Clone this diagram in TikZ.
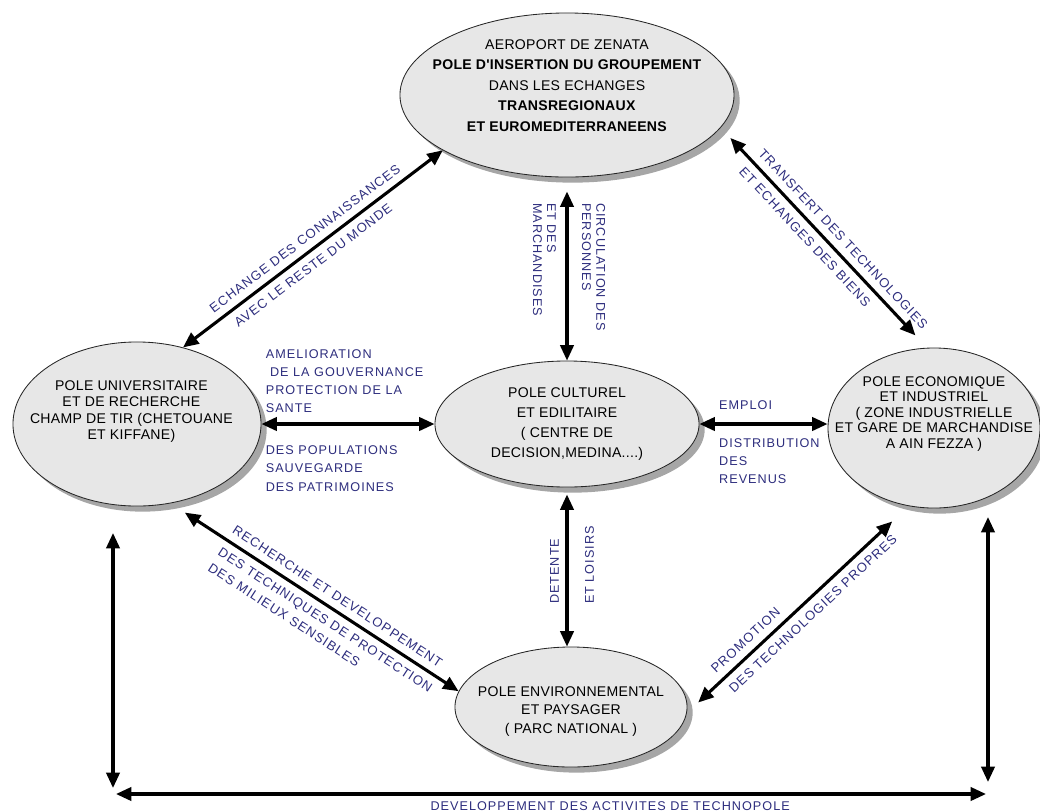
\documentclass[tikz,border=0pt]{standalone}
\usepackage{fontspec}
\setmainfont{Liberation Sans}
\newfontfamily\polefont[LetterSpace=2]{Liberation Sans}
\newfontfamily\linkfont[LetterSpace=8]{Liberation Sans}
\usetikzlibrary{positioning, shapes.geometric, arrows.meta, shadows}
\definecolor{polegray}{RGB}{231,231,231}
\definecolor{linkblue}{RGB}{45,45,125}

\begin{document}
\begin{tikzpicture}[
        x=0.025cm, y=-0.025cm,
        pole/.style={ellipse, draw=black!85, line width=0.6pt, fill=polegray, inner sep=0pt,
            drop shadow={shadow xshift=4pt, shadow yshift=-4pt, fill=black!35, opacity=1}},
        poletext/.style={align=center, font=\polefont\fontsize{10}{#1}\selectfont},
        arrow/.style={<->, >={Triangle[length=11pt, width=9.5pt]}, line width=2.2pt},
        linklabel/.style={text=linkblue, font=\linkfont\fontsize{9}{12.6}\selectfont, align=left, inner sep=2pt},
        slopelabel/.style={text=linkblue, font=\linkfont\fontsize{9.3}{13}\selectfont, align=left, sloped, inner sep=5pt},
        vlabel/.style={text=linkblue, font=\linkfont\fontsize{9}{10}\selectfont, align=left, inner sep=2pt}
    ]
    \useasboundingbox (0,0) rectangle (1040,811);

    % les poles
    \node[pole, minimum width=8.35cm, minimum height=4.1cm,
        label={[poletext=14.6, yshift=6.8pt]center:AEROPORT DE ZENATA\\\textbf{POLE D'INSERTION DU GROUPEMENT}\\DANS LES ECHANGES\\\textbf{TRANSREGIONAUX}\\\textbf{ET EUROMEDITERRANEENS}}] (air) at (567,95) {};
    \node[pole, minimum width=6.2cm, minimum height=4.1cm,
        label={[poletext=11.7, yshift=9pt, xshift=-4pt]center:POLE UNIVERSITAIRE\\ET DE RECHERCHE\\CHAMP DE TIR (CHETOUANE\\ET KIFFANE)}] (univ) at (137,424) {};
    \node[pole, minimum width=6.6cm, minimum height=3.15cm,
        label={[poletext=14.2]center:POLE CULTUREL\\ET EDILITAIRE\\( CENTRE DE\\DECISION,MEDINA....)}] (cult) at (567,424) {};
    \node[pole, minimum width=5.3cm, minimum height=4cm,
        label={[poletext=11, yshift=10pt]center:POLE ECONOMIQUE\\ET INDUSTRIEL\\( ZONE INDUSTRIELLE\\ET GARE DE MARCHANDISE\\A AIN FEZZA )}] (eco) at (934,428) {};
    \node[pole, minimum width=5.8cm, minimum height=3cm,
        label={[poletext=13.2, yshift=-3pt]center:POLE ENVIRONNEMENTAL\\ET PAYSAGER\\( PARC NATIONAL )}] (env) at (571,707) {};

    % liens entre les poles
    \draw[arrow] (univ.59) -- (air.204)
        node[slopelabel, pos=0.5, anchor=south] (echange) {ECHANGE DES CONNAISSANCES}
        node[slopelabel, pos=0.47, anchor=north] (monde) {AVEC LE RESTE DU MONDE};
    \draw[arrow, shorten <=10pt, shorten >=12pt] (air.-12) -- (eco.95)
        node[slopelabel, pos=0.12, anchor=south west] (transfert) {TRANSFERT DES TECHNOLOGIES}
        node[slopelabel, pos=0.12, anchor=north west] (biens) {ET ECHANGES DES BIENS};
    \draw[arrow, shorten <=10pt] (air.south) -- (cult.north);
    \draw[arrow] (univ.east) -- (cult.west)
        node[linklabel, pos=0, anchor=south west, yshift=5.3pt] (gouvernance) {AMELIORATION\\\hspace{3pt}DE LA GOUVERNANCE\\PROTECTION DE LA\\SANTE}
        node[linklabel, pos=0, anchor=north west, yshift=-12pt, font=\linkfont\fontsize{9}{13.2}\selectfont] (patrimoines) {DES POPULATIONS\\SAUVEGARDE\\DES PATRIMOINES};
    \draw[arrow] (cult.east) -- (cult.east -| eco.west)
        node[linklabel, pos=0.12, anchor=south west, yshift=6.9pt] (emploi) {EMPLOI}
        node[linklabel, pos=0.12, anchor=north west, yshift=-7.6pt] (revenus) {DISTRIBUTION\\DES\\REVENUS};
    \draw[arrow, shorten <=5pt] (cult.south) -- (cult.south |- env.north);
    \draw[arrow, shorten <=12pt] (univ.-67) -- (env.172)
        node[slopelabel, pos=0.17, anchor=south west] (recherche) {RECHERCHE ET DEVELOPPEMENT}
        node[slopelabel, pos=0.17, anchor=north west] (milieux) {DES TECHNIQUES DE PROTECTION\\DES MILIEUX SENSIBLES};
    \draw[arrow, shorten <=11pt, shorten >=16pt] (env.-3) -- (eco.-108)
        node[slopelabel, pos=0.13, anchor=south west] (promotion) {PROMOTION}
        node[slopelabel, pos=0.13, anchor=north west] (propres) {DES TECHNOLOGIES PROPRES};

    % etiquettes verticales
    \node[vlabel, rotate=-90, anchor=south west] (personnes) at (579,200) {CIRCULATION DES\\PERSONNES};
    \node[vlabel, rotate=-90, anchor=north west] (marchandises) at (559,200) {ET DES\\MARCHANDISES};
    \node[vlabel, rotate=90, anchor=south west] (detente) at (562,607) {DETENTE};
    \node[vlabel, rotate=90, anchor=north west] (loisirs) at (582,607) {ET LOISIRS};

    % technopole
    \coordinate (devTL) at (113,533);
    \coordinate (devBL) at (113,788);
    \coordinate (devTR) at (988,517);
    \coordinate (devBR) at (988,782);
    \coordinate (baseL) at (116,794);
    \coordinate (baseR) at (986,794);
    \draw[arrow] (devTL) -- (devBL);
    \draw[arrow] (devTR) -- (devBR);
    \draw[arrow] (baseL) -- (baseR)
        node[linklabel, pos=0.568, anchor=north, yshift=-2pt] (techno) {DEVELOPPEMENT DES ACTIVITES DE TECHNOPOLE};
\end{tikzpicture}
\end{document}
